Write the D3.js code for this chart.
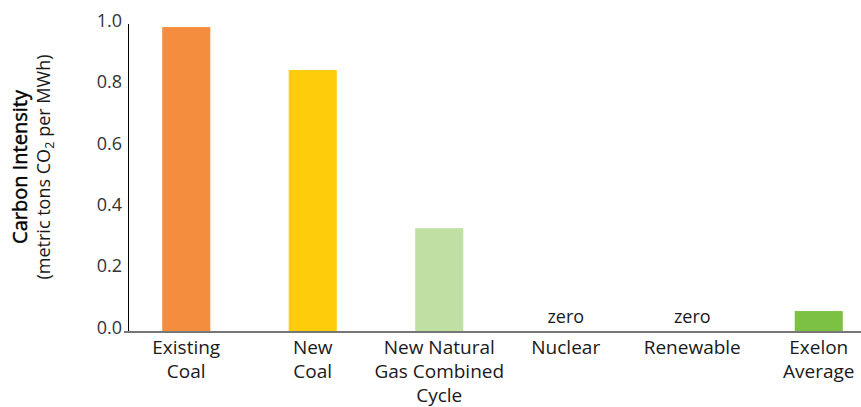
<!DOCTYPE html>
<html>
<head>
<meta charset="utf-8">
<script src="https://cdn.jsdelivr.net/npm/d3@7"></script>
<style>
  body { margin: 0; background: #fff; }
  svg text { font-family: "Open Sans", sans-serif; fill: #1a1a1a; }
</style>
</head>
<body>
<div id="chart"></div>
<script>
const w = 861;
const h = 407;

// data
const categories = ["Existing Coal", "New Coal", "New Natural Gas Combined Cycle", "Nuclear", "Renewable", "Exelon Average"];
const labelLines = [["Existing", "Coal"], ["New", "Coal"], ["New Natural", "Gas Combined", "Cycle"], ["Nuclear"], ["Renewable"], ["Exelon", "Average"]];
const values = [0.99, 0.85, 0.335, 0, 0, 0.065];
const colors = ["#f58d3f", "#fecc0a", "#bfdfa3", "#7cc143", "#7cc143", "#7cc143"];
const yTicks = [0, 0.2, 0.4, 0.6, 0.8, 1.0];

const svg = d3.select("div#chart").append("svg")
    .attr("width", w).attr("height", h);

const x = d3.scaleBand().domain(categories).range([123, 882])
    .paddingInner(0.62).paddingOuter(0.31);
const y = d3.scaleLinear().domain([0, 1]).range([331, 24]);

// bars
svg.selectAll("rect.bar")
    .data(categories)
    .enter()
    .append("rect")
    .attr("class", "bar")
    .attr("x", d => x(d))
    .attr("width", x.bandwidth())
    .attr("y", (d, i) => y(values[i]))
    .attr("height", (d, i) => y(0) - y(values[i]))
    .attr("fill", (d, i) => colors[i]);

// "zero" notes
svg.selectAll("text.zero")
    .data(categories.filter((d, i) => values[i] === 0))
    .enter()
    .append("text")
    .attr("class", "zero")
    .attr("x", d => x(d) + x.bandwidth() / 2)
    .attr("y", y(0) - 8)
    .attr("text-anchor", "middle")
    .style("font-size", "18px")
    .text("zero");

// axes
svg.append("line")
    .attr("x1", 128.5).attr("x2", 128.5)
    .attr("y1", y(1)).attr("y2", y(0) + 1)
    .attr("stroke", "#000").attr("stroke-width", 1);
svg.append("line")
    .attr("x1", 124).attr("x2", w)
    .attr("y1", y(0) + 1).attr("y2", y(0) + 1)
    .attr("stroke", "#777").attr("stroke-width", 2);

// y tick labels
svg.selectAll("text.ytick")
    .data(yTicks)
    .enter()
    .append("text")
    .attr("class", "ytick")
    .attr("x", 122)
    .attr("y", d => y(d))
    .attr("dy", "0.15em")
    .attr("text-anchor", "end")
    .style("font-size", "18px")
    .style("fill", "#333")
    .text(d => d3.format(".1f")(d));

// category labels
const labels = svg.selectAll("text.cat")
    .data(categories)
    .enter()
    .append("text")
    .attr("class", "cat")
    .attr("text-anchor", "middle")
    .attr("x", d => x(d) + x.bandwidth() / 2)
    .attr("y", 354)
    .style("font-size", "19px");
labels.each(function(d, i) {
    d3.select(this).selectAll("tspan")
        .data(labelLines[i])
        .enter()
        .append("tspan")
        .attr("x", x(d) + x.bandwidth() / 2)
        .attr("dy", (t, j) => j === 0 ? 0 : 24)
        .text(t => t);
});

// y axis title
const title = svg.append("text")
    .attr("transform", "translate(0,167) rotate(-90)")
    .attr("text-anchor", "middle");
title.append("tspan").attr("x", 0).attr("y", 27)
    .style("font-size", "20px").style("fill", "#000")
    .style("stroke", "#000").style("stroke-width", 0.45)
    .text("Carbon Intensity");
const sub = title.append("tspan").attr("x", 0).attr("y", 50)
    .style("font-size", "18px");
sub.append("tspan").text("(metric tons CO");
sub.append("tspan").attr("dy", 4).style("font-size", "13px").text("2");
sub.append("tspan").attr("dy", -4).text(" per MWh)");
</script>
</body>
</html>
